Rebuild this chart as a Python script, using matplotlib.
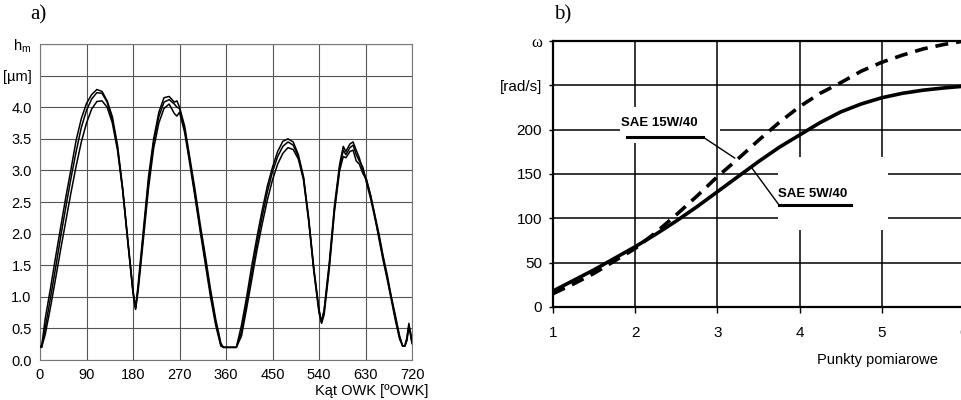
import matplotlib
matplotlib.use("Agg")
import matplotlib.pyplot as plt

# ---- panel a: oil film thickness vs crank angle (three runs)
DEG = [0, 3, 10, 20, 30, 40, 50, 60, 70, 80, 90, 100, 110, 120, 130, 140, 150,
       160, 170, 180, 185, 190, 200, 210, 220, 230, 240, 250, 260, 265, 270,
       280, 290, 300, 310, 320, 330, 340, 350, 355, 360, 370, 380, 390, 400,
       410, 420, 430, 440, 450, 460, 470, 480, 490, 500, 510, 520, 530, 540,
       545, 550, 560, 570, 580, 587, 592, 600, 606, 612, 618, 625, 632, 640,
       648, 656, 664, 672, 680, 688, 696, 702, 706, 710, 714, 717, 720]
H_1 = [0.22, 0.2, 0.65, 1.12, 1.62, 2.1, 2.58, 3.02, 3.48, 3.82, 4.06, 4.2,
       4.28, 4.25, 4.1, 3.85, 3.4, 2.72, 1.9, 1.1, 0.82, 1.2, 2.05, 2.9, 3.5,
       3.92, 4.15, 4.17, 4.08, 4.1, 4.0, 3.7, 3.2, 2.7, 2.15, 1.65, 1.12, 0.65,
       0.27, 0.2, 0.2, 0.2, 0.2, 0.55, 1.0, 1.5, 1.95, 2.37, 2.75, 3.05, 3.3,
       3.46, 3.5, 3.45, 3.25, 2.9, 2.25, 1.45, 0.8, 0.6, 0.8, 1.55, 2.45, 3.1,
       3.38, 3.3, 3.42, 3.45, 3.32, 3.2, 3.0, 2.85, 2.6, 2.3, 2.0, 1.65, 1.35,
       1.0, 0.7, 0.38, 0.22, 0.22, 0.35, 0.58, 0.4, 0.26]
H_2 = [0.22, 0.2, 0.5, 0.97, 1.45, 1.95, 2.42, 2.88, 3.3, 3.68, 3.95, 4.13,
       4.23, 4.22, 4.08, 3.8, 3.36, 2.7, 1.88, 1.08, 0.82, 1.15, 1.98, 2.82,
       3.45, 3.85, 4.08, 4.12, 4.05, 4.0, 3.98, 3.65, 3.15, 2.62, 2.08, 1.58,
       1.05, 0.6, 0.24, 0.2, 0.2, 0.2, 0.2, 0.45, 0.9, 1.38, 1.85, 2.27, 2.66,
       2.98, 3.22, 3.38, 3.45, 3.4, 3.22, 2.88, 2.22, 1.43, 0.78, 0.6, 0.78,
       1.5, 2.4, 3.05, 3.32, 3.25, 3.36, 3.4, 3.25, 3.15, 3.05, 2.8, 2.55,
       2.25, 1.95, 1.62, 1.3, 0.98, 0.66, 0.36, 0.22, 0.22, 0.32, 0.55, 0.42,
       0.28]
H_3 = [0.22, 0.2, 0.4, 0.82, 1.28, 1.75, 2.2, 2.65, 3.07, 3.45, 3.75, 3.97,
       4.09, 4.1, 4.0, 3.75, 3.32, 2.68, 1.86, 1.06, 0.8, 1.1, 1.9, 2.72, 3.35,
       3.75, 3.98, 4.05, 3.9, 3.86, 3.92, 3.6, 3.1, 2.58, 2.04, 1.52, 1.0,
       0.55, 0.22, 0.2, 0.2, 0.2, 0.2, 0.38, 0.82, 1.28, 1.74, 2.15, 2.53,
       2.85, 3.1, 3.27, 3.36, 3.33, 3.18, 2.85, 2.2, 1.4, 0.75, 0.58, 0.72,
       1.45, 2.35, 3.0, 3.22, 3.2, 3.3, 3.32, 3.15, 3.1, 2.95, 2.85, 2.6, 2.28,
       1.92, 1.58, 1.28, 0.95, 0.62, 0.33, 0.22, 0.22, 0.3, 0.52, 0.45, 0.3]
A_XTICKS = [0, 90, 180, 270, 360, 450, 540, 630, 720]
A_YTICKS = [0.0, 0.5, 1.0, 1.5, 2.0, 2.5, 3.0, 3.5, 4.0, 4.5, 5.0]
A_YLABELS = ["0.0", "0.5", "1.0", "1.5", "2.0", "2.5", "3.0", "3.5", "4.0",
             "[µm]", "h$_\\mathregular{m}$"]

# ---- panel b: angular speed at measurement points
POINTS = [1, 1.25, 1.5, 1.75, 2, 2.25, 2.5, 2.75, 3, 3.25, 3.5, 3.75, 4,
          4.25, 4.5, 4.75, 5, 5.25, 5.5, 5.75, 6]
OMEGA_5W40 = [18, 30, 42, 55, 68, 82, 97, 113, 130, 147, 164, 180, 194, 208,
              220, 229, 236, 241, 244.5, 247, 249]
OMEGA_15W40 = [15, 26, 38, 52, 66, 84, 104, 125, 147, 167, 188, 208, 226,
               241, 253, 266, 276, 284, 291, 296, 300]
B_XTICKS = [1, 2, 3, 4, 5, 6]
B_YTICKS = [0, 50, 100, 150, 200, 250, 300]
B_YLABELS = ["0", "50", "100", "150", "200", "[rad/s]", "ω"]

SANS = ["Liberation Sans", "DejaVu Sans"]
SERIF = ["Liberation Serif", "DejaVu Serif"]

fig = plt.figure(figsize=(9.62, 4.0), dpi=100)

# ---------------- panel a
ax = fig.add_axes([40 / 962, 0.10, 372 / 962, 0.79])
for h in (H_1, H_2, H_3):
    ax.plot(DEG, h, color="black", lw=1.1, zorder=3)
ax.set_xlim(0, 720)
ax.set_ylim(0, 5.0)
ax.set_xticks(A_XTICKS)
ax.set_yticks(A_YTICKS)
ax.set_yticklabels(A_YLABELS)
ax.grid(True, color="#555555", lw=0.8)
for s in ax.spines.values():
    s.set_color("#777777")
    s.set_linewidth(0.8)
ax.tick_params(length=0, pad=6, labelsize=10.5)
for lab in ax.get_xticklabels() + ax.get_yticklabels():
    lab.set_family(SANS)
fig.text(0.445, 0.022, "Kąt OWK [ºOWK]", ha="right", va="center",
         fontsize=10.5, family=SANS)
fig.text(0.031, 0.962, "a)", ha="left", va="center", fontsize=15, family=SERIF)

# ---------------- panel b
bx = fig.add_axes([553 / 962, 93 / 400, 411 / 962, 266 / 400])
bx.set_xlim(1, 6)
bx.set_ylim(0, 300)
grid_kw = dict(color="black", lw=1.1, zorder=1)
bx.hlines([50, 250], 1, 6, **grid_kw)
bx.hlines([200, 200], [1, 3.03], [1.81, 6], **grid_kw)
bx.hlines([100, 150], 1, 3.74, **grid_kw)
bx.hlines([100, 150], 5.07, 6, **grid_kw)
bx.vlines(3, 0, 300, **grid_kw)
bx.vlines([2, 2], [0, 225], [185, 300], **grid_kw)
bx.vlines([4, 5], 0, 87, **grid_kw)
bx.vlines([4, 5], 169, 300, **grid_kw)

bx.plot(POINTS, OMEGA_5W40, color="black", lw=2.6, zorder=3,
        solid_capstyle="butt")
bx.plot(POINTS, OMEGA_15W40, color="black", lw=2.6, zorder=3,
        dashes=(3.6, 2.2))

bx.set_xticks(B_XTICKS)
bx.set_yticks(B_YTICKS)
bx.set_yticklabels(B_YLABELS)
for name, s in bx.spines.items():
    s.set_color("black")
    s.set_linewidth(1.6)
bx.spines["right"].set_visible(False)
bx.tick_params(axis="x", length=4, width=1.0, pad=10, labelsize=11)
bx.tick_params(axis="y", length=3, width=1.0, pad=5, labelsize=11)
for lab in bx.get_xticklabels() + bx.get_yticklabels():
    lab.set_family(SANS)
bx.get_yticklabels()[-1].set_family(SERIF)
bx.get_yticklabels()[-1].set_fontsize(12)

# curve labels with underline and leader line
bx.text(2.29, 208, "SAE 15W/40", ha="center", va="center", fontsize=9.5,
        fontweight="bold", family=SANS, zorder=4)
bx.plot([1.9, 2.82, 3.21], [192, 192, 168], color="black", lw=1.0, zorder=4)
bx.plot([1.9, 2.82], [192, 192], color="black", lw=2.2, zorder=4)
bx.text(4.16, 128, "SAE 5W/40", ha="center", va="center", fontsize=9.5,
        fontweight="bold", family=SANS, zorder=4)
bx.plot([4.63, 3.75, 3.41], [115, 115, 158], color="black", lw=1.0, zorder=4)
bx.plot([3.75, 4.63], [115, 115], color="black", lw=2.2, zorder=4)

fig.text(0.912, 0.10, "Punkty pomiarowe", ha="center", va="center",
         fontsize=10.5, family=SANS)
fig.text(0.576, 0.962, "b)", ha="left", va="center", fontsize=15, family=SERIF)

fig.savefig("out.png", dpi=100)
